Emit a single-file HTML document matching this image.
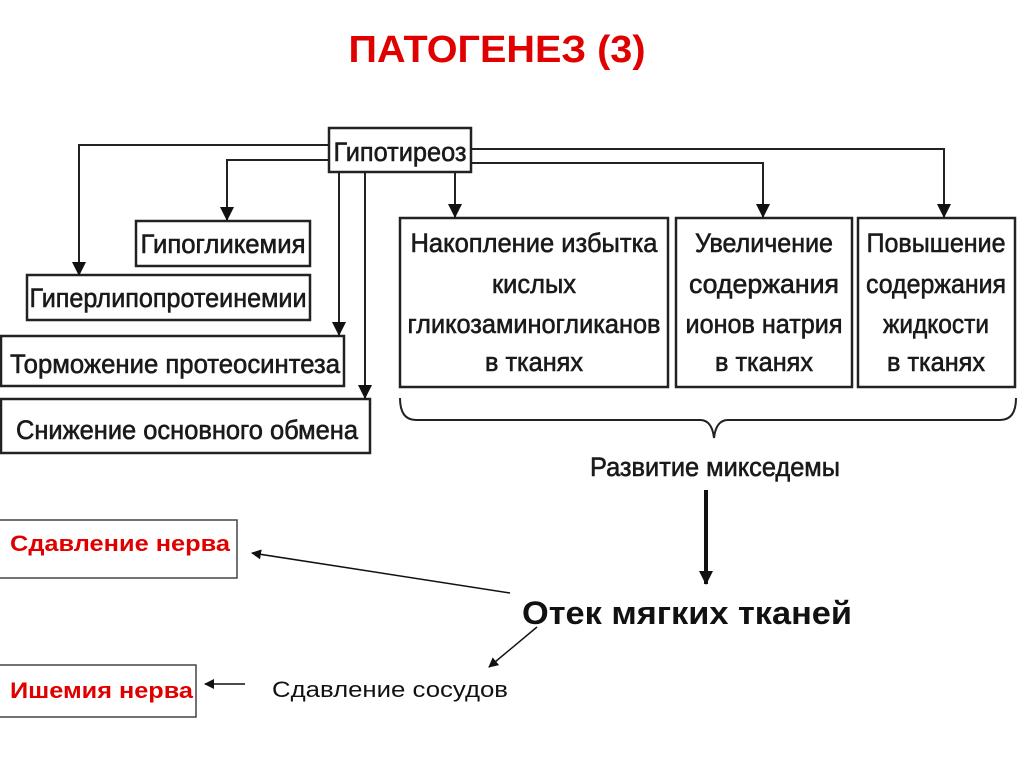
<!DOCTYPE html>
<html><head><meta charset="utf-8"><style>
html,body{margin:0;padding:0;background:#fff;}
svg{display:block}
.d{font-family:"Liberation Sans Narrow","Liberation Sans",sans-serif;font-size:27px;fill:#1a1a1a;stroke:#1a1a1a;stroke-width:0.6;}
</style></head><body>
<svg width="1024" height="767" viewBox="0 0 1024 767" xmlns="http://www.w3.org/2000/svg">
<defs>
<marker id="a" markerWidth="10" markerHeight="10" refX="9" refY="5" orient="auto" markerUnits="userSpaceOnUse"><path d="M0,0 L10,5 L0,10 z" fill="#111"/></marker>
<marker id="b" markerWidth="14" markerHeight="14" refX="13" refY="7" orient="auto" markerUnits="userSpaceOnUse"><path d="M0,0 L14,7 L0,14 z" fill="#111"/></marker>
</defs>
<text x="497" y="62" text-anchor="middle" font-family="Liberation Sans,sans-serif" font-weight="bold" font-size="38" fill="#e00000" textLength="297" lengthAdjust="spacingAndGlyphs">ПАТОГЕНЕЗ (3)</text>
<g fill="none" stroke="#222" stroke-width="2.5">
<rect x="329" y="128" width="142" height="44"/>
<rect x="136" y="221" width="174" height="45"/>
<rect x="27" y="275" width="283" height="45"/>
<rect x="1" y="336" width="343" height="50"/>
<rect x="1" y="399" width="369" height="54"/>
<rect x="400" y="218" width="268" height="169"/>
<rect x="676" y="218" width="176" height="169"/>
<rect x="858" y="218" width="157" height="169"/>
</g>
<g fill="none" stroke="#222" stroke-width="2" marker-end="url(#b)">
<path d="M329,145 H79 V275"/>
<path d="M329,160 H227 V220"/>
<path d="M339,172 V335"/>
<path d="M365,172 V398"/>
<path d="M455,172 V217"/>
<path d="M471,163 H763 V217"/>
<path d="M471,149 H944 V217"/>
</g>
<path d="M400,398 q0,22 16,22 H700 q12,0 14,18 q2,-18 14,-18 H1000 q16,0 16,-22" fill="none" stroke="#222" stroke-width="2"/>
<g class="d" text-anchor="middle" lengthAdjust="spacingAndGlyphs">
<text x="400" y="161" textLength="133" lengthAdjust="spacingAndGlyphs">Гипотиреоз</text>
<text x="223" y="253" textLength="165" lengthAdjust="spacingAndGlyphs">Гипогликемия</text>
<text x="168" y="307" textLength="277" lengthAdjust="spacingAndGlyphs">Гиперлипопротеинемии</text>
<text x="175" y="373" textLength="330" lengthAdjust="spacingAndGlyphs">Торможение протеосинтеза</text>
<text x="187" y="439" textLength="342" lengthAdjust="spacingAndGlyphs">Снижение основного обмена</text>
<text x="534" y="252" textLength="247" lengthAdjust="spacingAndGlyphs">Накопление избытка</text>
<text x="534" y="293" textLength="84" lengthAdjust="spacingAndGlyphs">кислых</text>
<text x="534" y="333" textLength="253" lengthAdjust="spacingAndGlyphs">гликозаминогликанов</text>
<text x="534" y="371" textLength="98" lengthAdjust="spacingAndGlyphs">в тканях</text>
<text x="764" y="252" textLength="138" lengthAdjust="spacingAndGlyphs">Увеличение</text>
<text x="764" y="293" textLength="150" lengthAdjust="spacingAndGlyphs">содержания</text>
<text x="764" y="333" textLength="157" lengthAdjust="spacingAndGlyphs">ионов натрия</text>
<text x="764" y="371" textLength="98" lengthAdjust="spacingAndGlyphs">в тканях</text>
<text x="936" y="252" textLength="139" lengthAdjust="spacingAndGlyphs">Повышение</text>
<text x="936" y="293" textLength="140" lengthAdjust="spacingAndGlyphs">содержания</text>
<text x="936" y="333" textLength="106" lengthAdjust="spacingAndGlyphs">жидкости</text>
<text x="936" y="371" textLength="98" lengthAdjust="spacingAndGlyphs">в тканях</text>
<text x="715" y="476" textLength="250" lengthAdjust="spacingAndGlyphs">Развитие микседемы</text>
</g>
<line x1="706" y1="490" x2="706" y2="584" stroke="#111" stroke-width="4" marker-end="url(#b)"/>
<text x="687" y="624" text-anchor="middle" font-family="Liberation Sans,sans-serif" font-weight="bold" font-size="32" fill="#111" textLength="330" lengthAdjust="spacingAndGlyphs">Отек мягких тканей</text>
<g fill="none" stroke="#444" stroke-width="1.5">
<rect x="-1" y="520" width="238" height="58"/>
<rect x="-1" y="665" width="197" height="52"/>
</g>
<text x="10" y="551" font-family="Liberation Sans,sans-serif" font-weight="bold" font-size="22" fill="#e00000" textLength="220" lengthAdjust="spacingAndGlyphs">Сдавление нерва</text>
<text x="10" y="698" font-family="Liberation Sans,sans-serif" font-weight="bold" font-size="22" fill="#e00000" textLength="183" lengthAdjust="spacingAndGlyphs">Ишемия нерва</text>
<text x="272" y="697" font-family="Liberation Sans,sans-serif" font-size="22" fill="#111" textLength="236" lengthAdjust="spacingAndGlyphs">Сдавление сосудов</text>
<g stroke="#111" stroke-width="1.5" marker-end="url(#a)">
<line x1="510" y1="593" x2="252" y2="553"/>
<line x1="537" y1="627" x2="489" y2="667"/>
<line x1="245" y1="684" x2="205" y2="684"/>
</g>
</svg>
</body></html>
